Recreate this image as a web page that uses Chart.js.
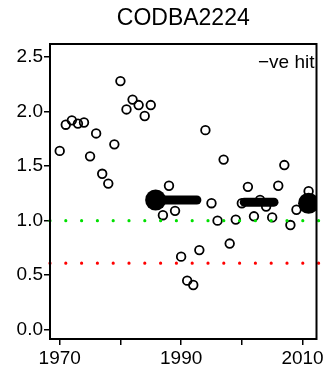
<!DOCTYPE html>
<html>
<head>
<meta charset="utf-8">
<script src="https://cdn.jsdelivr.net/npm/chart.js@4.4.1/dist/chart.umd.min.js"></script>
<style>
  html, body { margin: 0; padding: 0; background: #fff; }
  #wrap { width: 327px; height: 375px; }
</style>
</head>
<body>
<div id="wrap"><canvas id="c" width="327" height="375"></canvas></div>
<script>
/* ---------- data ---------- */
const title = 'CODBA2224';
const cornerLabel = '\u2212ve hit';

// open circles: yearly observations
const years  = [1970, 1971, 1972, 1973, 1974, 1975, 1976, 1977, 1978, 1979,
                1980, 1981, 1982, 1983, 1984, 1985, 1987, 1988, 1989, 1990,
                1991, 1992, 1993, 1994, 1995, 1996, 1997, 1998, 1999, 2000,
                2001, 2002, 2003, 2004, 2005, 2006, 2007, 2008, 2009, 2011];
const values = [1.64, 1.88, 1.92, 1.89, 1.90, 1.59, 1.80, 1.43, 1.34, 1.70,
                2.28, 2.02, 2.11, 2.06, 1.96, 2.06, 1.05, 1.32, 1.09, 0.67,
                0.45, 0.41, 0.73, 1.83, 1.16, 1.00, 1.56, 0.79, 1.01, 1.16,
                1.31, 1.04, 1.19, 1.13, 1.03, 1.32, 1.51, 0.96, 1.10, 1.27];

// filled blobs
const blobYears  = [1985.8, 2011.0];
const blobValues = [1.19, 1.16];

// thick segments
const seg1Years  = [1986.0, 1992.6];
const seg1Values = [1.19, 1.19];
const seg2Years  = [2000.4, 2005.3];
const seg2Values = [1.17, 1.17];

// reference levels (dotted lines across the whole panel)
const greenLevel = 1.0;
const redLevel   = 0.61;

// axes
const xMin = 1968.4, xMax = 2012.3;
const yMin = -0.085, yMax = 2.62;
const xTicks = [1970, 1980, 1990, 2000, 2010];
const xTickLabels = ['1970', '', '1990', '', '2010'];
const yTicks = [0, 0.5, 1.0, 1.5, 2.0, 2.5];

/* ---------- helpers ---------- */
const FONT = "'Liberation Sans', Arial, sans-serif";
const pts = (xs, ys) => xs.map((x, i) => ({ x, y: ys[i] }));
// run a touch past the right edge so the last dot at the frame is kept
const level = v => [{ x: xMin, y: v }, { x: xMax + 0.5, y: v }];

const frameAndText = {
  id: 'frameAndText',
  afterDraw(chart) {
    const { ctx, chartArea: a } = chart;
    ctx.save();
    ctx.strokeStyle = '#000';
    ctx.lineWidth = 2;
    ctx.strokeRect(a.left, a.top, a.right - a.left, a.bottom - a.top);
    ctx.fillStyle = '#000';
    ctx.textAlign = 'center';
    ctx.textBaseline = 'middle';
    ctx.font = `23px ${FONT}`;
    ctx.fillText(title, (a.left + a.right) / 2, 19);
    ctx.textAlign = 'right';
    ctx.font = `19px ${FONT}`;
    ctx.fillText(cornerLabel, a.right - 2, a.top + 19);
    ctx.restore();
  }
};

new Chart(document.getElementById('c'), {
  type: 'scatter',
  data: {
    datasets: [
      {
        label: 'green', type: 'line', data: level(greenLevel), order: 1,
        borderColor: '#00e000', borderWidth: 3.2, borderDash: [0, 15.8],
        borderCapStyle: 'round', pointRadius: 0, clip: false
      },
      {
        label: 'red', type: 'line', data: level(redLevel), order: 1,
        borderColor: '#ff0000', borderWidth: 3.2, borderDash: [0, 15.8],
        borderCapStyle: 'round', pointRadius: 0, clip: false
      },
      {
        label: 'seg1', type: 'line', data: pts(seg1Years, seg1Values), order: 2,
        borderColor: '#000', borderWidth: 9, borderCapStyle: 'round', pointRadius: 0
      },
      {
        label: 'seg2', type: 'line', data: pts(seg2Years, seg2Values), order: 2,
        borderColor: '#000', borderWidth: 9, borderCapStyle: 'round', pointRadius: 0
      },
      {
        label: 'blobs', data: pts(blobYears, blobValues), order: 2,
        pointRadius: 10.5, backgroundColor: '#000', borderColor: '#000', borderWidth: 0
      },
      {
        label: 'obs', data: pts(years, values), order: 3,
        pointRadius: 4.3, borderWidth: 1.8, borderColor: '#000',
        backgroundColor: 'rgba(0,0,0,0)'
      }
    ]
  },
  options: {
    responsive: false,
    animation: false,
    layout: { padding: { top: 44, right: 7, left: 0, bottom: 0 } },
    plugins: { legend: { display: false }, tooltip: { enabled: false }, title: { display: false } },
    scales: {
      x: {
        type: 'linear', min: xMin, max: xMax,
        afterBuildTicks: s => { s.ticks = xTicks.map(v => ({ value: v })); },
        afterFit: s => { s.height = 36; s.paddingLeft = 0; s.paddingRight = 0; },
        border: { display: false },
        grid: { drawOnChartArea: false, drawTicks: true, tickLength: 6, color: '#000', lineWidth: 1.5 },
        ticks: {
          color: '#000', padding: 2, maxRotation: 0, autoSkip: false,
          font: { family: FONT, size: 19 },
          callback: (v, i) => xTickLabels[i]
        }
      },
      y: {
        type: 'linear', min: yMin, max: yMax,
        afterBuildTicks: s => { s.ticks = yTicks.map(v => ({ value: v })); },
        afterFit: s => { s.width = 50; s.paddingTop = 0; s.paddingBottom = 0; },
        border: { display: false },
        grid: { drawOnChartArea: false, drawTicks: true, tickLength: 6, color: '#000', lineWidth: 1.5 },
        ticks: {
          color: '#000', padding: 1, autoSkip: false,
          font: { family: FONT, size: 19 },
          callback: v => v.toFixed(1)
        }
      }
    }
  },
  plugins: [frameAndText]
});
</script>
</body>
</html>
